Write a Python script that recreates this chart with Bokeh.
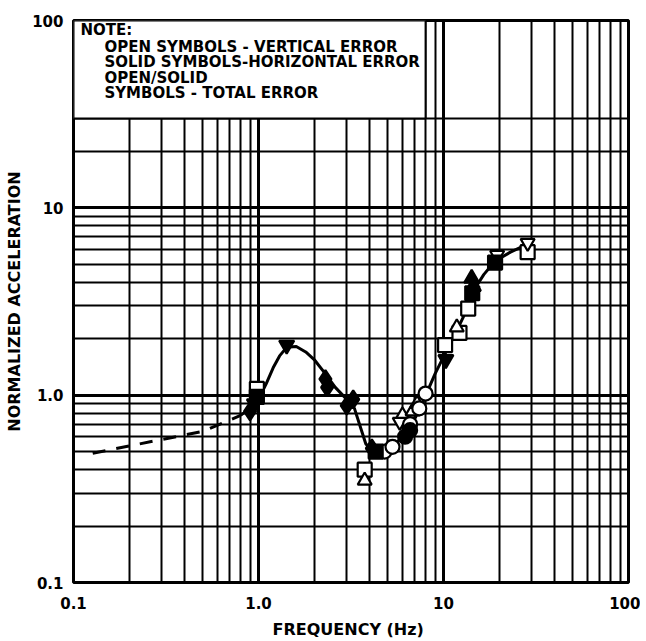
from bokeh.plotting import figure
from bokeh.models import FixedTicker, Label
from bokeh.embed import file_html
from bokeh.resources import INLINE

# ---- data ----
dash_f = [0.127, 0.3, 0.5, 0.8]
dash_a = [0.49, 0.58, 0.64, 0.78]

curve_f = [0.8, 0.9, 1.0, 1.1, 1.2, 1.3, 1.42, 1.6, 1.8, 2.0, 2.3, 2.6, 3.0, 3.3, 3.6,
           3.8, 4.2, 4.8, 5.5, 6.2, 7.0, 7.6, 8.2, 9.0, 10.0, 11.5, 13.0, 14.5, 16.5,
           19.0, 23.0, 28.5]
curve_a = [0.78, 0.85, 0.95, 1.15, 1.4, 1.62, 1.8, 1.82, 1.7, 1.55, 1.3, 1.1, 0.95, 0.85,
           0.65, 0.55, 0.5, 0.5, 0.55, 0.62, 0.75, 0.88, 1.05, 1.3, 1.6, 2.1, 2.7, 3.6,
           4.4, 5.2, 5.8, 6.4]

open_sq_f = [0.98, 3.75, 10.2, 12.2, 13.6, 28.5]
open_sq_a = [1.08, 0.40, 1.85, 2.15, 2.9, 5.8]
open_tri_f = [3.75, 6.0, 6.8, 11.8, 7.2]
open_tri_a = [0.35, 0.78, 0.82, 2.3, 0.9]
open_inv_f = [5.8, 28.5, 19.5]
open_inv_a = [0.72, 6.5, 5.6]
open_cir_f = [4.8, 5.3, 6.6, 8.0, 7.4]
open_cir_a = [0.5, 0.53, 0.7, 1.02, 0.85]

solid_dia_f = [0.9, 2.3, 2.35, 3.25, 3.0, 4.1]
solid_dia_a = [0.82, 1.22, 1.1, 0.95, 0.88, 0.52]
solid_sq_f = [0.98, 4.3, 19.0, 14.3]
solid_sq_a = [0.98, 0.5, 5.1, 3.5]
solid_cir_f = [6.2, 6.6]
solid_cir_a = [0.6, 0.65]
solid_inv_f = [1.42, 10.3, 0.95]
solid_inv_a = [1.85, 1.55, 0.9]
solid_tri_f = [14.2, 14.5]
solid_tri_a = [4.2, 3.8]

x_major = [0.1, 1, 10, 100]
x_minor = [d * k for d in [0.1, 1, 10] for k in range(2, 10)]
y_major = [0.1, 1, 10, 100]
y_minor = [d * k for d in [0.1, 1] for k in range(2, 10)] + [20, 30]
x_labels = {0.1: "0.1", 1: "1.0", 10: "10", 100: "100"}
y_labels = {0.1: "0.1", 1: "1.0", 10: "10", 100: "100"}

note_lines = ["NOTE:", "OPEN SYMBOLS - VERTICAL ERROR", "SOLID SYMBOLS-HORIZONTAL ERROR",
              "OPEN/SOLID", "SYMBOLS - TOTAL ERROR"]

FONT = "DejaVu Sans"

p = figure(width=640, height=641, x_axis_type="log", y_axis_type="log",
           x_range=(0.1, 100), y_range=(0.1, 100),
           output_backend="svg", toolbar_location=None,
           min_border_left=73, min_border_right=12, min_border_top=20, min_border_bottom=59)

p.outline_line_color = "black"
p.outline_line_width = 3
p.background_fill_color = "white"
p.border_fill_color = "white"

xt = FixedTicker(ticks=x_major, minor_ticks=x_minor)
yt = FixedTicker(ticks=y_major, minor_ticks=y_minor)
p.xaxis.ticker = xt
p.yaxis.ticker = yt
p.xgrid.ticker = xt
p.ygrid.ticker = yt

for g in (p.xgrid, p.ygrid):
    g.grid_line_color = "black"
    g.grid_line_width = 3
    g.grid_line_alpha = 1
    g.minor_grid_line_color = "black"
    g.minor_grid_line_width = 2

for ax in (p.xaxis, p.yaxis):
    ax.axis_line_color = None
    ax.major_tick_line_color = None
    ax.minor_tick_line_color = None
    ax.major_tick_in = 0
    ax.major_tick_out = 0
    ax.minor_tick_in = 0
    ax.minor_tick_out = 0
    ax.major_label_text_font = FONT
    ax.major_label_text_font_style = "bold"
    ax.major_label_text_font_size = "15px"
    ax.major_label_text_color = "black"
    ax.axis_label_text_font = FONT
    ax.axis_label_text_font_style = "bold"
    ax.axis_label_text_font_size = "16px"
    ax.axis_label_text_color = "black"

p.xaxis.major_label_overrides = x_labels
p.yaxis.major_label_overrides = y_labels
p.xaxis.axis_label = "FREQUENCY  (Hz)"
p.yaxis.axis_label = "NORMALIZED ACCELERATION"
p.xaxis.major_label_standoff = 14
p.xaxis.axis_label_standoff = 8
p.yaxis.major_label_standoff = 10
p.yaxis.axis_label_standoff = 5

# note box
p.quad(left=[0.1], right=[8.0], bottom=[30], top=[100], fill_color="white",
       line_color="black", line_width=2)
note_x = [0.109, 0.147, 0.147, 0.147, 0.147]
note_y = [89.5, 72.6, 60.4, 49.6, 41.2]
for t, xx, yy in zip(note_lines, note_x, note_y):
    p.add_layout(Label(x=xx, y=yy, text=t, text_font=FONT, text_font_style="bold",
                       text_font_size="15px", text_baseline="middle", text_color="black"))

# curves
p.line(dash_f, dash_a, line_color="black", line_width=3, line_dash="13 11")
p.line(curve_f, curve_a, line_color="black", line_width=3)

def pts(f, a, marker, solid, size=14):
    p.scatter(f, a, marker=marker, size=size, line_color="black", line_width=2.2,
              fill_color="black" if solid else "white")

pts(open_sq_f, open_sq_a, "square", False)
pts(open_tri_f, open_tri_a, "triangle", False)
pts(open_inv_f, open_inv_a, "inverted_triangle", False)
pts(open_cir_f, open_cir_a, "circle", False)
pts(solid_dia_f, solid_dia_a, "diamond", True, 18)
pts(solid_sq_f, solid_sq_a, "square", True)
pts(solid_cir_f, solid_cir_a, "circle", True)
pts(solid_inv_f, solid_inv_a, "inverted_triangle", True, 15)
pts(solid_tri_f, solid_tri_a, "triangle", True, 15)

open("out.html", "w").write(file_html(p, INLINE))
